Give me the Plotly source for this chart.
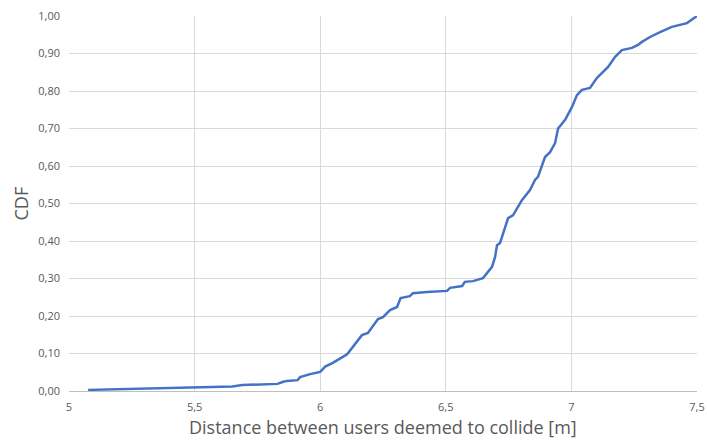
import plotly.graph_objects as go

distance_m = [5.076, 5.2, 5.35, 5.5, 5.65, 5.69, 5.75, 5.83, 5.85, 5.868, 5.91, 5.92, 5.96, 6.0,
              6.02, 6.05, 6.09, 6.107, 6.127, 6.147, 6.166, 6.19, 6.23, 6.25, 6.278, 6.306,
              6.32, 6.357, 6.369, 6.425, 6.505, 6.517, 6.565, 6.576, 6.608, 6.648, 6.664,
              6.684, 6.696, 6.704, 6.716, 6.736, 6.748, 6.768, 6.803, 6.835, 6.855, 6.867,
              6.895, 6.915, 6.935, 6.947, 6.975, 7.002, 7.014, 7.022, 7.042, 7.074, 7.102,
              7.122, 7.146, 7.174, 7.201, 7.241, 7.265, 7.281, 7.313, 7.353, 7.40, 7.46,
              7.472, 7.50]
cdf = [0.003, 0.005, 0.007, 0.009, 0.012, 0.016, 0.018, 0.019, 0.024, 0.027, 0.029, 0.037, 0.045, 0.051,
       0.065, 0.075, 0.091, 0.098, 0.115, 0.131, 0.149, 0.155, 0.192, 0.197, 0.216, 0.224,
       0.248, 0.253, 0.261, 0.264, 0.267, 0.275, 0.280, 0.291, 0.293, 0.301, 0.315,
       0.331, 0.357, 0.389, 0.395, 0.435, 0.461, 0.469, 0.509, 0.536, 0.563, 0.571,
       0.624, 0.637, 0.661, 0.700, 0.723, 0.757, 0.776, 0.789, 0.803, 0.808, 0.835,
       0.848, 0.864, 0.891, 0.909, 0.915, 0.923, 0.931, 0.944, 0.957, 0.971, 0.981,
       0.987, 1.000]

x_ticks = [5, 5.5, 6, 6.5, 7, 7.5]
x_tick_labels = ["5", "5,5", "6", "6,5", "7", "7,5"]
y_ticks = [0, 0.1, 0.2, 0.3, 0.4, 0.5, 0.6, 0.7, 0.8, 0.9, 1.0]
y_tick_labels = ["0,00", "0,10", "0,20", "0,30", "0,40", "0,50", "0,60", "0,70", "0,80", "0,90", "1,00"]

x_title = "Distance between users deemed to collide [m]"
y_title = "CDF"

fig = go.Figure()
fig.add_trace(go.Scatter(x=distance_m, y=cdf, mode="lines",
                         line=dict(color="#4472C4", width=2.5), showlegend=False))

font_family = "Open Sans, Liberation Sans, sans-serif"
fig.update_layout(
    width=707, height=440, autosize=False,
    margin=dict(l=69, r=10, t=16, b=49),
    plot_bgcolor="white", paper_bgcolor="white",
    font=dict(family=font_family, color="#595959"),
    separators=",.",
    xaxis=dict(range=[5, 7.5], tickvals=x_ticks, ticktext=x_tick_labels,
               showgrid=True, gridcolor="#d9d9d9", gridwidth=1, automargin=False,
               zeroline=False, showline=True, linecolor="#bfbfbf", linewidth=1,
               ticks="", tickfont=dict(size=11, color="#595959"), ticklabelstandoff=6),
    yaxis=dict(range=[0, 1.0], tickvals=y_ticks, ticktext=y_tick_labels,
               showgrid=True, gridcolor="#d9d9d9", gridwidth=1, automargin=False,
               zeroline=False, showline=False,
               ticks="", tickfont=dict(size=11, color="#595959"), ticklabelstandoff=8),
    annotations=[
        dict(text=x_title, xref="paper", yref="paper", x=0.5, y=0, yshift=-36,
             xanchor="center", yanchor="middle", showarrow=False,
             font=dict(size=18, color="#595959", family=font_family)),
        dict(text=y_title, xref="paper", yref="paper", x=0, xshift=-49, y=0.5,
             xanchor="center", yanchor="middle", showarrow=False, textangle=-90,
             font=dict(size=18, color="#595959", family=font_family)),
    ],
)

fig.write_html(
    "out.html",
    config={"responsive": False, "displayModeBar": False},
    post_script=(
        "document.documentElement.style.overflow='hidden';"
        "document.body.style.overflow='hidden';"
        "document.body.style.margin='0px';"
    ),
)
